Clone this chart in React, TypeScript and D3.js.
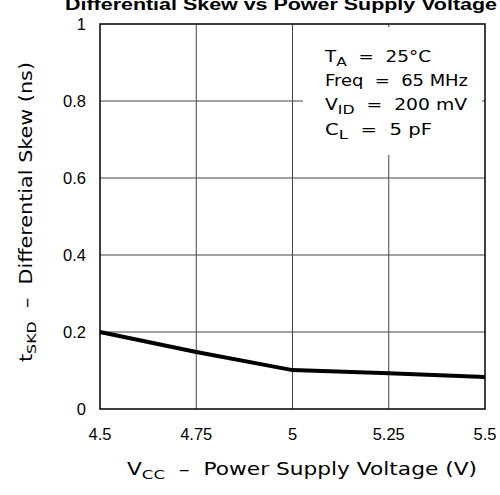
import React from "react";
import * as d3 from "d3";

const voltages = [4.5, 4.75, 5, 5.25, 5.5];
const skew = [0.2, 0.148, 0.101, 0.093, 0.083];
const xTicks = [4.5, 4.75, 5, 5.25, 5.5];
const xTickLabels = ["4.5", "4.75", "5", "5.25", "5.5"];
const yTicks = [0, 0.2, 0.4, 0.6, 0.8, 1];
const yTickLabels = ["0", "0.2", "0.4", "0.6", "0.8", "1"];

const W = 500;
const H = 495;
const margin = { top: 24, right: 15, bottom: 86, left: 100 };

const hershey = "'DejaVu Sans', sans-serif";
const arial = "'Liberation Sans', Arial, sans-serif";

export default function App() {
  const x = d3.scaleLinear().domain([4.5, 5.5]).range([margin.left, W - margin.right]);
  const y = d3.scaleLinear().domain([0, 1]).range([H - margin.bottom, margin.top]);

  const pts = voltages.map((v, i) => [x(v), y(skew[i])] as [number, number]);
  const line = d3.line();

  const x0 = x(4.5), x1 = x(5.5), y0 = y(0), y1 = y(1);
  const fit = "spacingAndGlyphs";

  return (
    <svg width={W} height={H} style={{ position: "absolute", left: 0, top: 0, background: "#fff" }}>
      <rect width={W} height={H} fill="#fff" />
      {/* title, cut off at the top */}
      <text x={281} y={10} textAnchor="middle" fontFamily={arial} fontWeight="bold" fontSize={16} textLength={432} lengthAdjust={fit}>
        Differential Skew vs Power Supply Voltage
      </text>

      {/* grid */}
      {xTicks.slice(1, -1).map((t) => (
        <line key={"gx" + t} x1={x(t)} x2={x(t)} y1={y1} y2={y0} stroke="#444" strokeWidth={1} />
      ))}
      {yTicks.slice(1, -1).map((t) => (
        <line key={"gy" + t} x1={x0} x2={x1} y1={y(t)} y2={y(t)} stroke="#444" strokeWidth={1} />
      ))}

      {/* legend box hides gridlines */}
      <rect x={303} y={27} width={179} height={128} fill="#fff" />
      <g fontFamily={hershey} fontSize={15.5} fill="#000">
        <text x={325} y={62} textLength={106} lengthAdjust={fit}>
          T<tspan fontSize={13} dy={4}>A</tspan><tspan dy={-4} xmlSpace="preserve">{"  =  25°C"}</tspan>
        </text>
        <text x={325} y={86} xmlSpace="preserve" textLength={143} lengthAdjust={fit}>{"Freq  =  65 MHz"}</text>
        <text x={325} y={110} textLength={142} lengthAdjust={fit}>
          V<tspan fontSize={13} dy={4}>ID</tspan><tspan dy={-4} xmlSpace="preserve">{"  =  200 mV"}</tspan>
        </text>
        <text x={325} y={135} textLength={107} lengthAdjust={fit}>
          C<tspan fontSize={13} dy={4}>L</tspan><tspan dy={-4} xmlSpace="preserve">{"  =  5 pF"}</tspan>
        </text>
      </g>

      {/* frame */}
      <rect x={x0} y={y1} width={x1 - x0} height={y0 - y1} fill="none" stroke="#000" strokeWidth={1.5} />

      {/* data */}
      <path d={line(pts) || ""} fill="none" stroke="#000" strokeWidth={4} />

      {/* tick labels */}
      <g fontFamily={arial} fontSize={16.5} fill="#000">
        {yTicks.map((t, i) => (
          <text key={"yl" + t} x={86} y={y(t)} dy="0.35em" textAnchor="end">
            {yTickLabels[i]}
          </text>
        ))}
        {xTicks.map((t, i) => (
          <text key={"xl" + t} x={x(t)} y={440} textAnchor="middle">
            {xTickLabels[i]}
          </text>
        ))}
      </g>

      {/* axis titles */}
      <text x={127} y={475} fontFamily={hershey} fontSize={17} textLength={350} lengthAdjust={fit}>
        V<tspan fontSize={13} dy={4}>CC</tspan><tspan dy={-4} xmlSpace="preserve">{"  –  Power Supply Voltage (V)"}</tspan>
      </text>
      <text transform="translate(32,362) rotate(-90)" fontFamily={hershey} fontSize={17} textLength={300} lengthAdjust={fit}>
        t<tspan fontSize={13} dy={4}>SKD</tspan><tspan dy={-4} xmlSpace="preserve">{"  –  Differential Skew (ns)"}</tspan>
      </text>
    </svg>
  );
}
